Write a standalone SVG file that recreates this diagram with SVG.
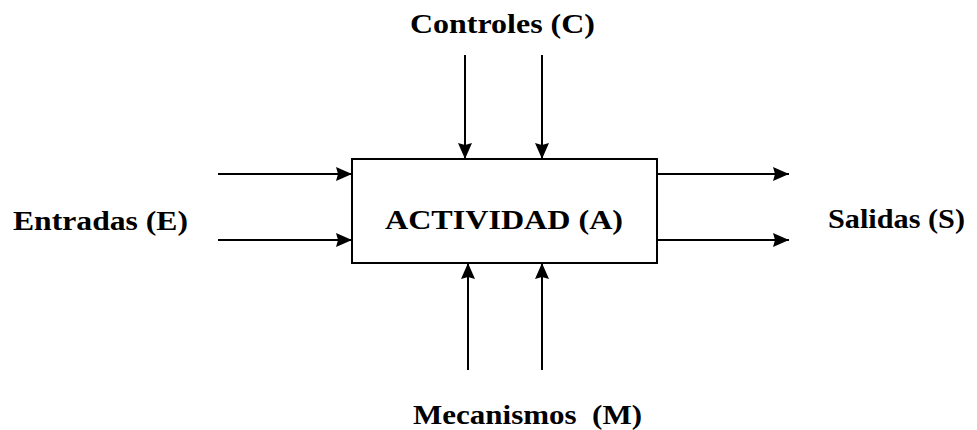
<svg xmlns="http://www.w3.org/2000/svg" width="977" height="430" viewBox="0 0 977 430">
<style>
.t{font-family:"Liberation Serif","Times New Roman",serif;font-weight:bold;font-size:28px;fill:#000}
.c{stroke:#000;stroke-width:2;fill:none}
</style>
<defs>
<marker id="ah" viewBox="0 0 16 14" refX="16" refY="7" markerWidth="16" markerHeight="14" markerUnits="userSpaceOnUse" orient="auto">
<path d="M0,0 L16,7 L0,14 L2,7 Z" fill="#000"/>
</marker>
</defs>
<rect width="977" height="430" fill="#fff"/>
<g id="activity">
<rect x="352" y="159" width="305" height="104" fill="#fff" stroke="#000" stroke-width="2"/>
<text class="t" x="385" y="229" textLength="238" lengthAdjust="spacingAndGlyphs">ACTIVIDAD (A)</text>
</g>
<g id="controles">
<text class="t" x="410" y="33" textLength="185" lengthAdjust="spacingAndGlyphs">Controles (C)</text>
</g>
<g id="entradas">
<text class="t" x="13" y="230" textLength="175" lengthAdjust="spacingAndGlyphs">Entradas (E)</text>
</g>
<g id="salidas">
<text class="t" x="828" y="228" textLength="137" lengthAdjust="spacingAndGlyphs">Salidas (S)</text>
</g>
<g id="mecanismos">
<text class="t" x="413" y="424" textLength="229" lengthAdjust="spacingAndGlyphs" xml:space="preserve">Mecanismos  (M)</text>
</g>
<g id="connectors">
<line class="c" x1="465" y1="55" x2="465" y2="159" marker-end="url(#ah)"/>
<line class="c" x1="542" y1="55" x2="542" y2="159" marker-end="url(#ah)"/>
<line class="c" x1="468" y1="370" x2="468" y2="263" marker-end="url(#ah)"/>
<line class="c" x1="542" y1="370" x2="542" y2="263" marker-end="url(#ah)"/>
<line class="c" x1="218" y1="174" x2="352" y2="174" marker-end="url(#ah)"/>
<line class="c" x1="218" y1="240" x2="352" y2="240" marker-end="url(#ah)"/>
<line class="c" x1="657" y1="174" x2="789" y2="174" marker-end="url(#ah)"/>
<line class="c" x1="657" y1="240" x2="789" y2="240" marker-end="url(#ah)"/>
</g>
</svg>
